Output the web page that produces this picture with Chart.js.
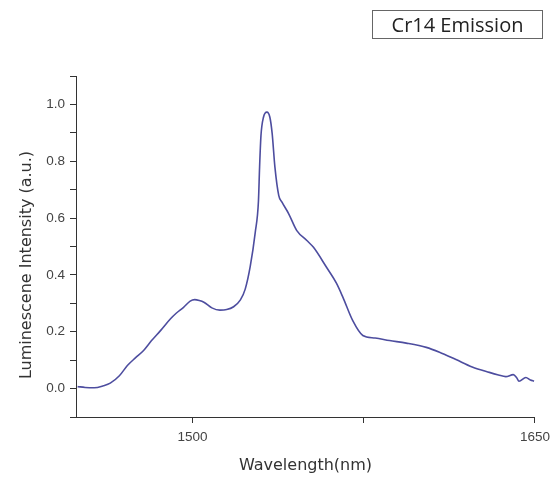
<!DOCTYPE html>
<html>
<head>
<meta charset="utf-8">
<script src="https://cdn.jsdelivr.net/npm/chart.js@4"></script>
<style>
	body { margin: 0; background: #fff; }
	#wrap { position: relative; width: 556px; height: 477px; }
	#legendBox {
		position: absolute; left: 372px; top: 10px; width: 169px; height: 27px;
		border: 1px solid #666; font: 20px "Open Sans", sans-serif; color: #222;
		text-align: center; line-height: 27px;
	}
	#yTitle {
		position: absolute; left: 26px; top: 265px; width: 260px; height: 20px;
		margin-left: -130px; margin-top: -10px; transform: rotate(-90deg);
		font: 16px "DejaVu Sans", sans-serif; color: #333; text-align: center; line-height: 20px;
		white-space: nowrap;
	}
</style>
</head>
<body>
<div id="wrap">
	<canvas id="grafico" width="556" height="477"></canvas>
	<div id="legendBox">Cr14 Emission</div>
	<div id="yTitle">Luminescene Intensity (a.u.)</div>
</div>
<script>
	// valores
	const wavelength = [
		1449.7, 1453, 1457, 1461, 1464, 1468, 1471.5, 1475, 1478.6, 1482, 1486, 1490.4, 1493, 1496.1,
		1499, 1501, 1503, 1505, 1508.5, 1512, 1515, 1518, 1521, 1523.1, 1525.3, 1527.5, 1528.9, 1529.4,
		1530, 1531.1, 1532.6, 1533.9, 1534.9, 1536.1, 1537.8, 1539.2, 1542.1, 1545.7, 1550.1, 1553,
		1558.7, 1563.1, 1565.9, 1570.2, 1574.6, 1580, 1586.3, 1593.6, 1602.4, 1608.2, 1615.4, 1622.5,
		1630, 1634, 1637.2, 1640.5, 1642, 1643, 1646, 1648, 1649.6
	];
	const intensity = [
		0.007, 0.004, 0.003, 0.010, 0.019, 0.045, 0.081, 0.108, 0.134, 0.168, 0.204, 0.246, 0.266, 0.286,
		0.308, 0.313, 0.310, 0.304, 0.284, 0.276, 0.278, 0.288, 0.312, 0.350, 0.430, 0.550, 0.660, 0.780,
		0.890, 0.955, 0.973, 0.955, 0.898, 0.780, 0.679, 0.656, 0.616, 0.556, 0.521, 0.497,
		0.427, 0.370, 0.321, 0.239, 0.187, 0.178, 0.169, 0.160, 0.145, 0.128, 0.102, 0.076,
		0.057, 0.048, 0.042, 0.049, 0.038, 0.026, 0.039, 0.030, 0.026
	];
	const xTickValues = [1500, 1575, 1650];
	const xTickLabels = ['1500', '', '1650'];
	const yTickLabels = ['0.0', '0.2', '0.4', '0.6', '0.8', '1.0'];

	const corEixo = '#333';

	new Chart('grafico', {
		type: 'line',
		data: {
			datasets: [{
				data: wavelength.map((w, i) => ({ x: w, y: intensity[i] })),
				borderColor: '#4d4d9f',
				borderWidth: 1.6,
				pointRadius: 0,
				cubicInterpolationMode: 'monotone',
				fill: false
			}]
		},
		options: {
			responsive: false,
			animation: false,
			layout: { padding: { top: 76, right: 20, left: 0, bottom: 0 } },
			plugins: { legend: { display: false }, tooltip: { enabled: false } },
			scales: {
				x: {
					type: 'linear',
					min: 1449,
					max: 1650,
					afterBuildTicks: (scale) => {
						scale.ticks = xTickValues.map(v => ({ value: v }));
					},
					afterFit: (scale) => { scale.height = 60; },
					grid: { drawOnChartArea: false, color: corEixo, tickLength: 6 },
					border: { color: corEixo, width: 1 },
					ticks: {
						autoSkip: false,
						maxRotation: 0,
						padding: 6,
						color: '#444',
						font: { family: 'Liberation Sans', size: 13.5 },
						callback: (v) => xTickLabels[xTickValues.indexOf(v)] ?? ''
					},
					title: {
						display: true,
						text: 'Wavelength(nm)',
						color: corEixo,
						padding: { top: 4, bottom: 2 },
						font: { family: 'DejaVu Sans', size: 16 }
					}
				},
				y: {
					min: -0.1,
					max: 1.1,
					afterFit: (scale) => { scale.width = 76; },
					grid: { drawOnChartArea: false, color: corEixo, tickLength: 6 },
					border: { color: corEixo, width: 1 },
					ticks: {
						stepSize: 0.1,
						autoSkip: false,
						padding: 5,
						color: '#444',
						font: { family: 'Liberation Sans', size: 13.5 },
						callback: (v) => {
							const k = Math.round(v * 10);
							return (k % 2 === 0 && k >= 0 && k <= 10) ? yTickLabels[k / 2] : '';
						}
					}
				}
			}
		}
	});
</script>
</body>
</html>
